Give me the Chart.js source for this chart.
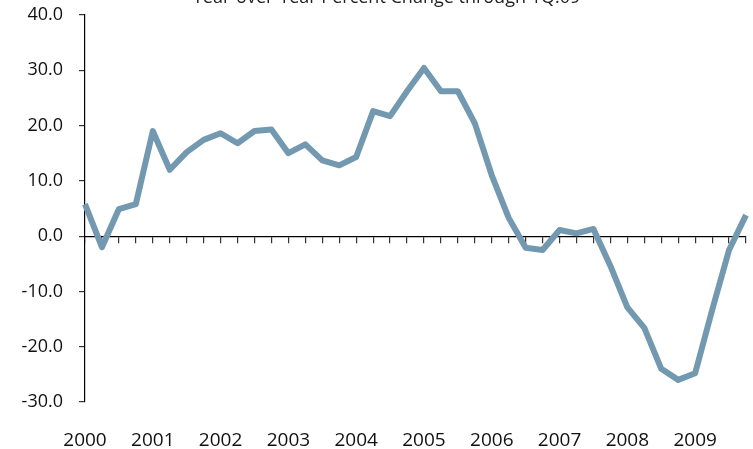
<!DOCTYPE html>
<html>
<head>
<meta charset="utf-8">
<script src="https://cdn.jsdelivr.net/npm/chart.js@4/dist/chart.umd.min.js"></script>
<style>
  html, body { margin: 0; padding: 0; background: #fff; }
  #wrap { width: 753px; height: 449px; }
</style>
</head>
<body>
<div id="wrap"><canvas id="chart"></canvas></div>
<script>
const years = ['2000', '2001', '2002', '2003', '2004', '2005', '2006', '2007', '2008', '2009'];
const quarters = ['Q1', 'Q2', 'Q3', 'Q4'];
const yoyChange = [
  5.8, -2.0, 4.9, 5.8,
  19.0, 12.0, 15.2, 17.4,
  18.6, 16.8, 19.0, 19.3,
  15.0, 16.6, 13.7, 12.8,
  14.3, 22.6, 21.7, 26.2,
  30.4, 26.2, 26.2, 20.4,
  11.0, 3.3, -2.1, -2.5,
  1.1, 0.5, 1.3, -5.4,
  -12.9, -16.6, -24.0, -26.0,
  -24.8, -13.4, -2.5, 3.8
];
const yTicks = [40, 30, 20, 10, 0, -10, -20, -30];

const labels = [];
years.forEach(y => quarters.forEach(q => labels.push(q + ' ' + y)));

const font = "'Open Sans', 'DejaVu Sans', sans-serif";

// title sits partly above the top edge and is centred a bit right of the canvas centre
const titleShift = {
  id: 'titleShift',
  afterLayout(chart) {
    const t = chart.titleBlock;
    if (!t) return;
    t.left = 27;
    t.top = -10;
  }
};

function noPad(s) {
  s.paddingLeft = 0;
  s.paddingRight = 0;
  s.paddingTop = 0;
  s.paddingBottom = 0;
}

const ctx = document.getElementById('chart').getContext('2d');
const chart = new Chart(ctx, {
  type: 'line',
  data: {
    labels: labels,
    datasets: [{
      data: yoyChange,
      borderColor: '#7399b1',
      borderWidth: 6,
      borderJoinStyle: 'round',
      pointRadius: 0,
      tension: 0,
      fill: false
    }]
  },
  plugins: [titleShift],
  options: {
    responsive: true,
    maintainAspectRatio: false,
    animation: false,
    layout: { padding: { left: 0, right: 7, top: 0, bottom: 0 } },
    plugins: {
      legend: { display: false },
      tooltip: { enabled: false },
      title: {
        display: true,
        text: 'Year-over-Year Percent Change through 1Q.09',
        color: '#222',
        font: { family: font, size: 18, weight: 'normal', lineHeight: 0.83 },
        padding: 0
      }
    },
    scales: {
      x: {
        type: 'category',
        position: 'bottom',
        border: { display: false },
        grid: { display: false, drawTicks: false },
        afterFit: s => { s.height = 47; noPad(s); },
        ticks: {
          autoSkip: false,
          maxRotation: 0,
          padding: 27,
          color: '#111',
          font: { family: font, size: 19 },
          callback: (v, i) => (i % 4 === 0 ? years[i / 4] : '')
        }
      },
      zero: {
        type: 'category',
        axis: 'x',
        position: { y: 0 },
        labels: labels,
        border: { display: true, color: '#000', width: 1.2 },
        grid: { drawOnChartArea: false, drawTicks: true, tickLength: 6, color: '#333', lineWidth: 1.2 },
        afterFit: noPad,
        ticks: { display: false, autoSkip: false, callback: () => '' }
      },
      y: {
        min: -30,
        max: 40,
        afterFit: s => { s.width = 85; noPad(s); },
        afterBuildTicks: s => { s.ticks = yTicks.map(v => ({ value: v })); },
        border: { display: true, color: '#000', width: 1.2 },
        grid: { drawOnChartArea: false, drawTicks: true, tickLength: 6, color: '#333', lineWidth: 1.2 },
        ticks: {
          padding: 16,
          color: '#111',
          font: { family: font, size: 18 },
          callback: v => v.toFixed(1)
        }
      }
    }
  }
});
</script>
</body>
</html>
